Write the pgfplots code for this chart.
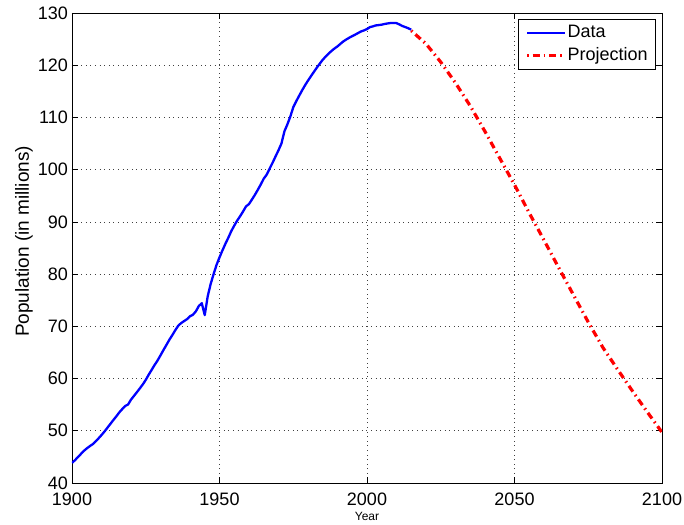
\documentclass[border=0pt]{standalone}
\usepackage{fontspec}
\setmainfont{Liberation Sans}
\usepackage{pgfplots}
\pgfplotsset{compat=1.18}
\usetikzlibrary{calc}
\begin{document}
\begin{tikzpicture}
\begin{axis}[
  scale only axis, width=590pt, height=470pt,
  xmin=1900, xmax=2100, ymin=40, ymax=130,
  xtick={1900,1950,...,2100}, ytick={40,50,...,130},
  tick pos=both, tick align=inside,
  major tick length=6pt,
  tick style={black, line width=0.7pt},
  axis line style={black, line width=0.8pt},
  grid=major,
  major grid style={black!75, line width=0.6pt, dash pattern=on 0.8pt off 3.8pt},
  /pgf/number format/assume math mode=true,
  /pgf/number format/1000 sep={},
  ticklabel style={font=\fontsize{18}{20}\selectfont},
  yticklabel style={inner sep=0pt, xshift=-4pt},
  xticklabel style={inner sep=0pt, yshift=-10pt},
  xlabel={Year},
  xlabel style={font=\fontsize{12}{14}\selectfont, at={(axis description cs:0.5,-0.061)}, anchor=north, inner sep=0pt},
  ylabel={Population (in millions)},
  ylabel style={font=\fontsize{19}{21}\selectfont, at={(axis description cs:-0.0661,0.514)}, anchor=south, rotate=0, inner sep=0pt},
  legend image code/.code={\draw[#1] (0pt,0pt) -- (38pt,0pt);},
  legend style={at={(axis description cs:1,1)}, anchor=north east, xshift=-6pt, yshift=-6pt,
    draw=black, line width=0.7pt, fill=white,
    font=\fontsize{18}{20}\selectfont,
    inner xsep=7pt, inner ysep=4pt, row sep=4pt,
    nodes={inner sep=1pt, text height=13pt, text depth=4pt},
    cells={anchor=west}},
]
\coordinate (SW) at (rel axis cs:0,0);
\coordinate (NE) at (rel axis cs:1,1);
\addplot[blue, line width=2.3pt, line join=round] coordinates {
(1900,43.85) (1901,44.36) (1902,44.96) (1903,45.55) (1904,46.14) (1905,46.62)
(1906,47.04) (1907,47.42) (1908,47.97) (1909,48.55) (1910,49.18) (1911,49.85)
(1912,50.58) (1913,51.31) (1914,52.04) (1915,52.75) (1916,53.50) (1917,54.13)
(1918,54.74) (1919,55.03) (1920,55.96) (1921,56.67) (1922,57.39) (1923,58.12)
(1924,58.88) (1925,59.74) (1926,60.74) (1927,61.66) (1928,62.60) (1929,63.46)
(1930,64.45) (1931,65.46) (1932,66.43) (1933,67.43) (1934,68.31) (1935,69.25)
(1936,70.11) (1937,70.63) (1938,71.01) (1939,71.38) (1940,71.93) (1941,72.22)
(1942,72.88) (1943,73.90) (1944,74.43) (1945,72.15) (1946,75.75) (1947,78.10)
(1948,80.00) (1949,81.77) (1950,83.20) (1951,84.54) (1952,85.81) (1953,86.98)
(1954,88.24) (1955,89.28) (1956,90.26) (1957,91.09) (1958,92.01) (1959,92.97)
(1960,93.42) (1961,94.29) (1962,95.18) (1963,96.16) (1964,97.18) (1965,98.28)
(1966,99.05) (1967,100.20) (1968,101.33) (1969,102.54) (1970,103.72) (1971,105.01)
(1972,107.33) (1973,108.66) (1974,110.16) (1975,111.94) (1976,113.09) (1977,114.15)
(1978,115.19) (1979,116.16) (1980,117.06) (1981,117.90) (1982,118.73) (1983,119.54)
(1984,120.31) (1985,121.05) (1986,121.66) (1987,122.24) (1988,122.75) (1989,123.21)
(1990,123.61) (1991,124.10) (1992,124.57) (1993,124.94) (1994,125.27) (1995,125.57)
(1996,125.86) (1997,126.17) (1998,126.47) (1999,126.67) (2000,126.93) (2001,127.29)
(2002,127.44) (2003,127.62) (2004,127.69) (2005,127.77) (2006,127.90) (2007,128.00)
(2008,128.08) (2009,128.10) (2010,128.06) (2011,127.80) (2012,127.50) (2013,127.30)
(2014,127.08) (2015,126.80)
};
\addlegendentry{Data}
\addplot[red, line width=3.2pt, dash pattern=on 1.5pt off 4pt on 7pt off 4pt] coordinates {
(2015,126.6) (2020,124.1) (2025,120.6) (2030,116.6) (2035,112.2) (2040,107.3)
(2045,102.2) (2050,97.1) (2055,91.7) (2060,86.5) (2065,81.2) (2070,76.0)
(2075,70.8) (2080,65.9) (2085,61.7) (2090,57.6) (2095,53.6) (2100,49.7)
};
\addlegendentry{Projection}
\end{axis}
\pgfresetboundingbox
\path ($(SW)+(-72pt,-41pt)$) rectangle ($(NE)+(22pt,13pt)$);
\end{tikzpicture}
\end{document}
